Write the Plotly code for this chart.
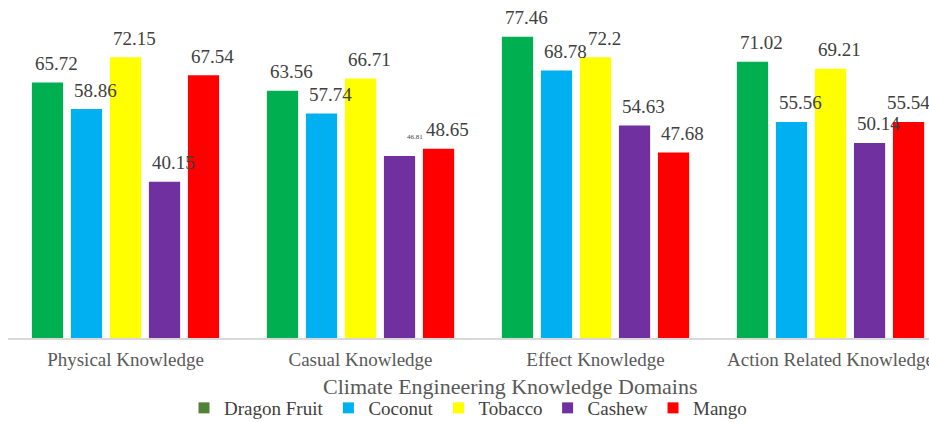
import plotly.graph_objects as go

# ---- data ----
categories = ["Physical Knowledge", "Casual Knowledge", "Effect Knowledge", "Action Related Knowledge"]
series_names = ["Dragon Fruit", "Coconut", "Tobacco", "Cashew", "Mango"]
dragon_fruit = [65.72, 63.56, 77.46, 71.02]
coconut = [58.86, 57.74, 68.78, 55.56]
tobacco = [72.15, 66.71, 72.2, 69.21]
cashew = [40.15, 46.81, 54.63, 50.14]
mango = [67.54, 48.65, 47.68, 55.54]
series_values = [dragon_fruit, coconut, tobacco, cashew, mango]
x_title = "Climate Engineering Knowledge Domains"

# ---- styles ----
bar_colors = ["#00B050", "#00B0F0", "#FFFF00", "#7030A0", "#FF0000"]
legend_colors = ["#548235", "#00B0F0", "#FFFF00", "#7030A0", "#FF0000"]
SERIF = "Liberation Serif"
TXT = "#404040"
LABEL_SIZE = 19

W, H = 929, 422
ML, MR, MT, MB = 8, 0, 0, 84
PLOT_H = H - MT - MB
X_RANGE = [-0.5, 3.419]
Y_RANGE = [0, 86.9]
BARGAP, GROUPGAP = 0.17, 0.2

fig = go.Figure()
for name, vals, col in zip(series_names, series_values, bar_colors):
    fig.add_trace(go.Bar(x=categories, y=vals, name=name, marker_color=col,
                         marker_line_width=0, showlegend=False))
for name, col in zip(series_names, legend_colors):
    fig.add_trace(go.Scatter(x=[None], y=[None], mode="markers", name=name,
                             marker=dict(symbol="square", size=11, color=col)))

# data labels: offset per series slot in pixels from axis geometry,
# nudged left when they would run past the right edge of the chart
plot_w = W - ML - MR
px_per_cat = plot_w / (X_RANGE[1] - X_RANGE[0])
slot_px = px_per_cat * (1 - BARGAP) / len(series_names)
for i, vals in enumerate(series_values):
    for j, v in enumerate(vals):
        small = (series_names[i] == "Cashew" and categories[j] == "Casual Knowledge")
        text = f"{v:g}"
        shift = (i - 2) * slot_px + (15 if small else 9)
        center_px = ML + (j - X_RANGE[0]) * px_per_cat + shift
        half_w = LABEL_SIZE * (0.5 * sum(c.isdigit() for c in text) + 0.25) / 2
        overflow = center_px + half_w - (W + 1)
        if not small and overflow > 0:
            shift -= overflow
        fig.add_annotation(x=categories[j], y=v, xref="x", yref="y",
                           text=text, showarrow=False,
                           xshift=shift, yshift=19, yanchor="middle",
                           font=dict(family=SERIF, size=7 if small else LABEL_SIZE, color=TXT))

fig.add_annotation(x=(510 - ML) / plot_w, y=(PLOT_H - 386) / PLOT_H, xref="paper", yref="paper",
                   text=x_title, showarrow=False, xanchor="center", yanchor="middle",
                   font=dict(family=SERIF, size=22, color="#595959"))

fig.update_layout(
    width=W, height=H,
    margin=dict(l=ML, r=MR, t=MT, b=MB, autoexpand=False),
    barmode="group", bargap=BARGAP, bargroupgap=GROUPGAP,
    plot_bgcolor="white", paper_bgcolor="white",
    showlegend=True,
    legend=dict(orientation="h", x=(184 - ML) / plot_w, xanchor="left",
                y=(PLOT_H - 408) / PLOT_H, yanchor="middle",
                font=dict(family=SERIF, size=19, color=TXT),
                bgcolor="rgba(0,0,0,0)", itemsizing="trace"),
    xaxis=dict(range=X_RANGE, showgrid=False, showline=True, linecolor="#D9D9D9",
               linewidth=1.5, ticks="", ticklabelstandoff=3, automargin=False,
               tickfont=dict(family=SERIF, size=19, color="#595959")),
    yaxis=dict(range=Y_RANGE, showgrid=False, showticklabels=False, zeroline=False,
               showline=False, automargin=False),
)

fig.write_html("out.html",
               config={"displayModeBar": False},
               post_script="document.body.style.margin='0';"
                           "document.documentElement.style.overflow='hidden';")
